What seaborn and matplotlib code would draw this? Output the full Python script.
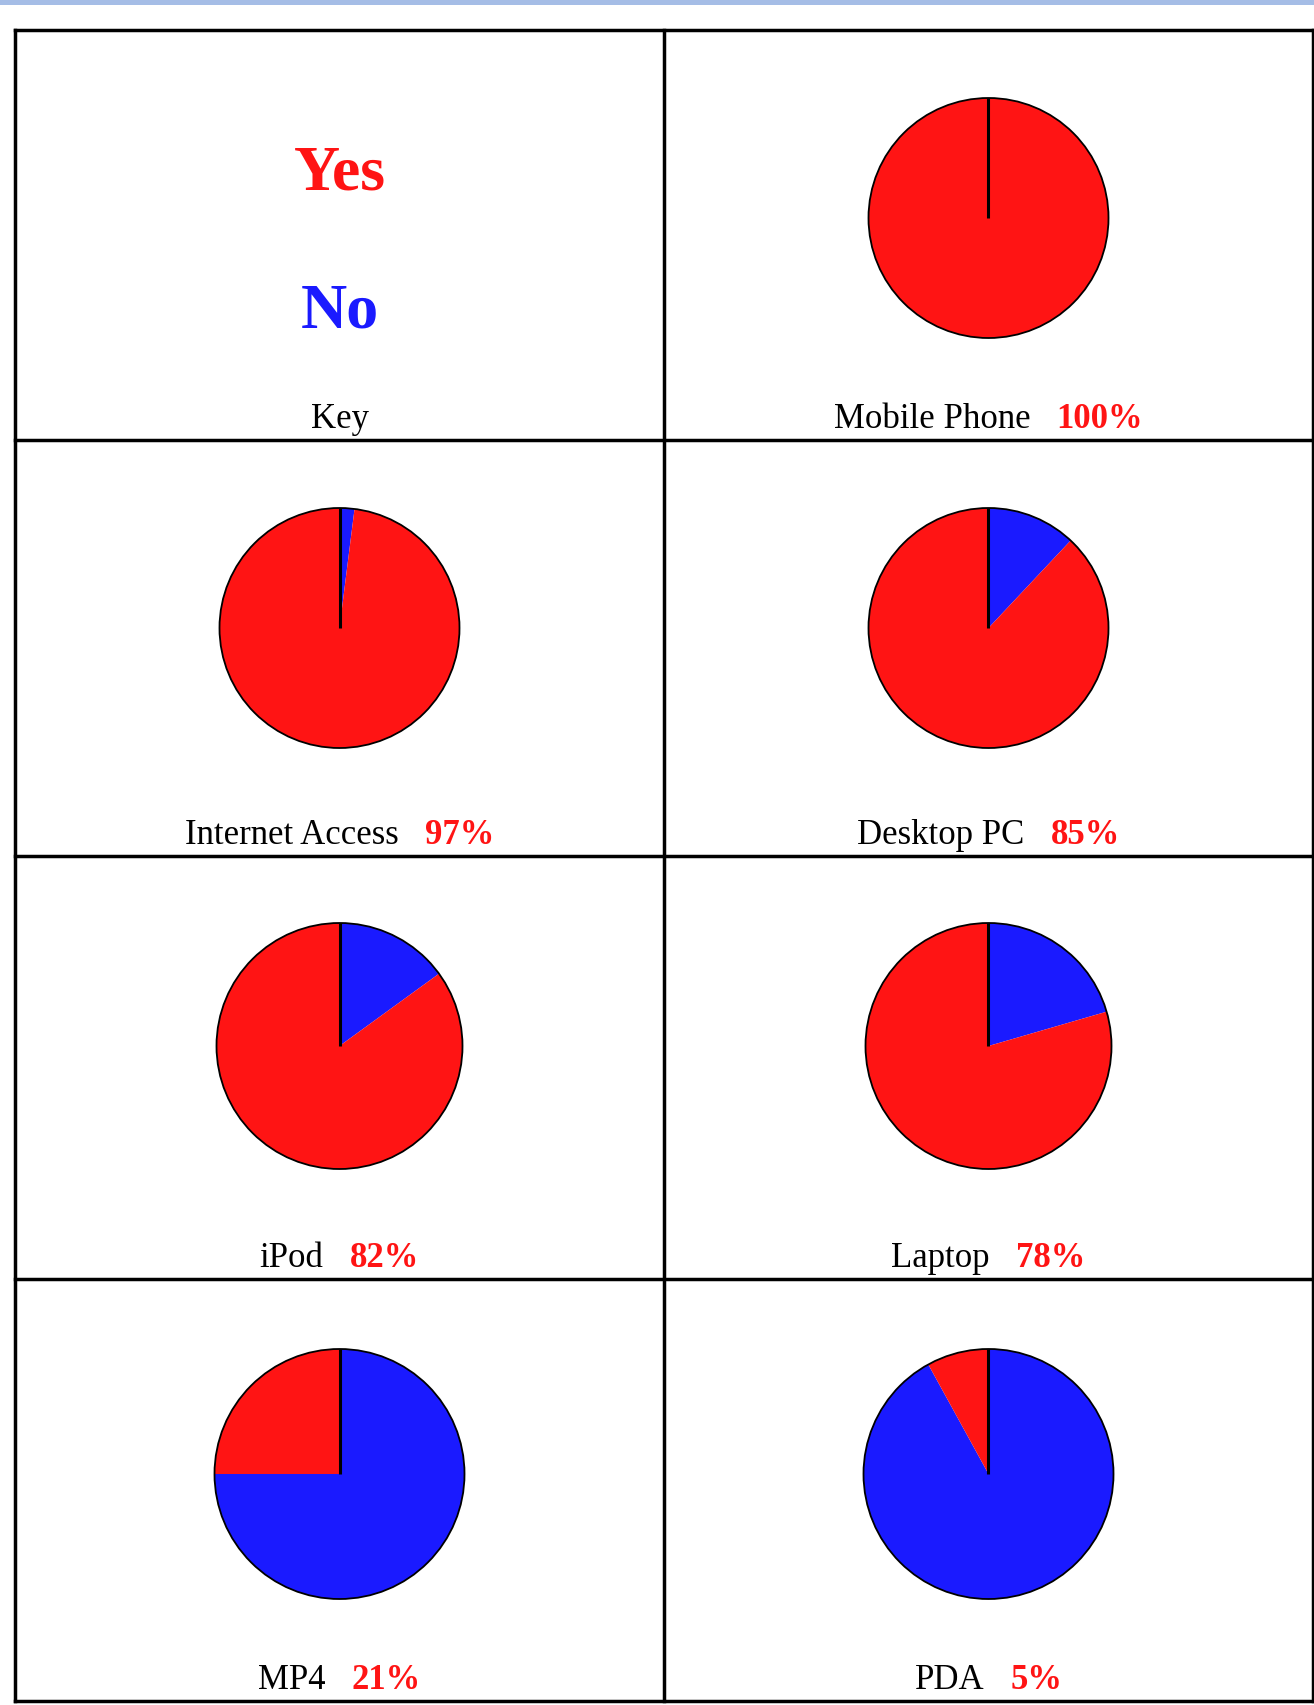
import matplotlib
matplotlib.use("Agg")
import matplotlib.pyplot as plt
import seaborn as sns
from matplotlib.patches import Circle
from matplotlib.offsetbox import TextArea, HPacker, AnnotationBbox

# Data
items = ["Mobile Phone", "Internet Access", "Desktop PC", "iPod", "Laptop", "MP4", "PDA"]
pct_labels = ["100%", "97%", "85%", "82%", "78%", "21%", "5%"]
# "Yes" share as the slices are actually drawn in the picture
yes_drawn = [100, 98, 88, 85, 79.5, 25, 8]
key_labels = ["Yes", "No"]

# Style
sns.set_theme(style="white")
plt.rcParams["font.family"] = ["Liberation Serif", "DejaVu Serif"]
YES_COLOR = "#ff1414"
NO_COLOR = "#1a1aff"

# Layout in pixels (y measured from the top of the page)
W, H = 1314, 1706
COL_X = [15, 664, 1313]
ROW_Y = [31, 441, 857, 1280, 1702]
PIE_OFFSET = [188, 188, 190, 195]
PIE_R = [120, 120, 123, 125]
LABEL_SIZE = 25


def fy(y):
    return H - y


def cell_label(ax, parts, x, y):
    boxes = [TextArea(txt, textprops=props) for txt, props in parts]
    pack = HPacker(children=boxes, align="baseline", pad=0, sep=19)
    ab = AnnotationBbox(pack, (x, y), box_alignment=(0.5, 0), frameon=False,
                        pad=0, xycoords="data")
    ax.add_artist(ab)


fig = plt.figure(figsize=(W / 100, H / 100), dpi=100)
ax = fig.add_axes([0, 0, 1, 1])

name_props = dict(color="black", fontsize=LABEL_SIZE)
pct_props = dict(color=YES_COLOR, fontsize=LABEL_SIZE, fontweight="bold")

cells = [(r, c) for r in range(4) for c in range(2)]

# Key cell
kx = (COL_X[0] + COL_X[1]) / 2
ax.text(kx, fy(190), key_labels[0], ha="center", va="baseline", fontsize=46,
        fontweight="bold", color=YES_COLOR)
ax.text(kx, fy(328), key_labels[1], ha="center", va="baseline", fontsize=46,
        fontweight="bold", color=NO_COLOR)
cell_label(ax, [("Key", name_props)], kx, fy(ROW_Y[1] - 5))

# One pie per item
for (r, c), name, pct, yes in zip(cells[1:], items, pct_labels, yes_drawn):
    cx = (COL_X[c] + COL_X[c + 1]) / 2
    cy = fy(ROW_Y[r] + PIE_OFFSET[r])
    rad = PIE_R[r]
    ax.pie([100 - yes, yes], colors=[NO_COLOR, YES_COLOR], startangle=90,
           counterclock=False, center=(cx, cy), radius=rad,
           wedgeprops=dict(linewidth=0))
    ax.add_patch(Circle((cx, cy), rad, fill=False, edgecolor="black", lw=1.3))
    ax.vlines(cx, cy, cy + rad, color="black", lw=2.2)
    cell_label(ax, [(name, name_props), (pct, pct_props)], cx, fy(ROW_Y[r + 1] - 5))

# Table grid
ax.vlines(COL_X, fy(ROW_Y[0]), fy(ROW_Y[-1]), color="black", lw=2.5,
          capstyle="projecting")
ax.hlines([fy(y) for y in ROW_Y], COL_X[0], COL_X[-1], color="black", lw=2.5,
          capstyle="projecting")

# thin page band at the top
ax.axhspan(fy(6), H, color="#a5bde6", lw=0)

ax.set_xlim(0, W)
ax.set_ylim(0, H)
ax.axis("off")

fig.savefig("out.png", dpi=100)
